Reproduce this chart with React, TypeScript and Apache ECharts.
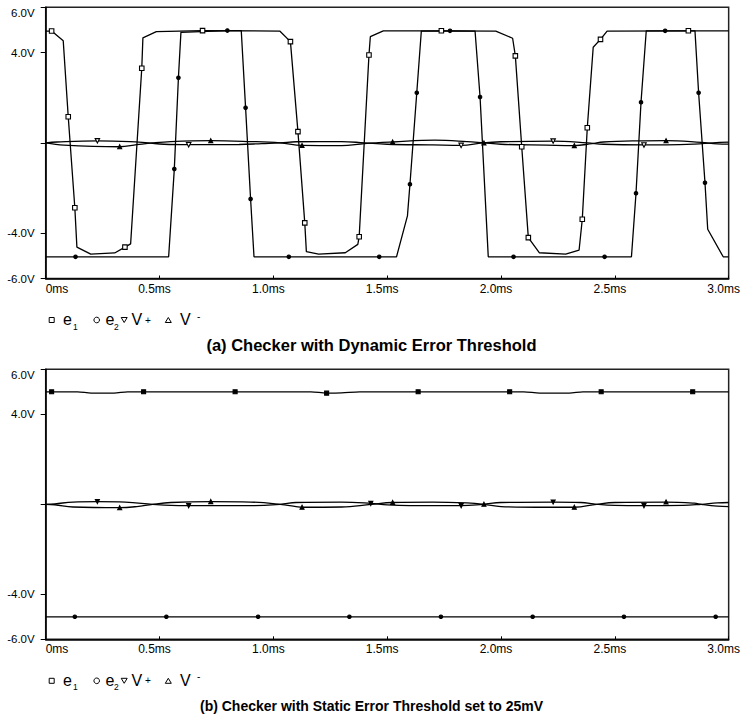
import React, { useEffect, useRef } from "react";
import * as echarts from "echarts";

// time in ms, voltage in V, third element = 1 -> a marker is drawn at that point
const e1Dynamic: number[][] = [
  [0, 4.95], [0.026, 4.95, 1], [0.077, 4.52], [0.099, 1.16, 1], [0.128, -2.87, 1], [0.137, -4.61],
  [0.198, -4.92], [0.303, -4.87], [0.348, -4.61, 1], [0.373, -4.47], [0.422, 3.3, 1], [0.427, 4.65],
  [0.486, 4.92], [0.689, 4.97, 1], [1.028, 4.95], [1.075, 4.48, 1], [1.108, 0.5, 1], [1.138, -3.54, 1],
  [1.145, -4.81], [1.199, -4.92], [1.316, -4.86], [1.371, -4.49], [1.377, -4.15, 1], [1.42, 3.89, 1],
  [1.426, 4.7], [1.483, 4.96], [1.738, 4.96, 1], [1.977, 4.95], [2.051, 4.63], [2.063, 3.85, 1],
  [2.091, -0.17, 1], [2.12, -4.19, 1], [2.168, -4.86], [2.284, -4.92], [2.343, -4.74], [2.357, -3.38, 1],
  [2.379, 0.67, 1], [2.405, 4.23], [2.437, 4.58, 1], [2.466, 4.95], [2.823, 4.96, 1], [3.0, 4.96],
];
const e2Dynamic: number[][] = [
  [0, -5.04], [0.131, -5.04, 1], [0.54, -5.04], [0.565, -1.15, 1], [0.583, 2.88, 1], [0.594, 4.89],
  [0.798, 4.97, 1], [0.859, 4.97], [0.878, 1.56, 1], [0.9, -2.48, 1], [0.915, -5.04], [1.068, -5.04, 1],
  [1.465, -5.04, 1], [1.541, -5.04], [1.589, -3.23], [1.6, -1.83, 1], [1.63, 2.22, 1], [1.65, 4.95],
  [1.776, 4.96, 1], [1.886, 4.95], [1.908, 2.03, 1], [1.944, -5.04], [2.055, -5.04, 1], [2.455, -5.04, 1],
  [2.573, -5.04], [2.593, -2.23, 1], [2.615, 1.8, 1], [2.638, 4.96], [2.721, 4.96, 1], [2.852, 4.96],
  [2.868, 2.22, 1], [2.896, -1.76, 1], [2.908, -3.82], [2.976, -5.04], [3.0, -5.04],
];
const vPlusDynamic: number[][] = [
  [0, 0], [0.05, 0.04], [0.227, 0.09, 1], [0.37, 0.06], [0.45, 0], [0.52, -0.06], [0.628, -0.08, 1],
  [0.85, -0.07], [0.95, -0.03], [1.03, 0], [1.1, 0.05], [1.3, 0.06], [1.4, 0], [1.5, -0.06], [1.7, -0.09],
  [1.825, -0.11, 1], [1.92, 0], [2.0, 0.05], [2.229, 0.08, 1], [2.38, 0], [2.45, -0.06], [2.628, -0.09, 1],
  [2.85, -0.05], [2.93, 0], [3.0, 0.03],
];
const vMinusDynamic: number[][] = [
  [0, 0], [0.08, -0.1], [0.325, -0.17, 1], [0.4, -0.08], [0.47, 0], [0.55, 0.06], [0.725, 0.1, 1],
  [0.9, 0.06], [1.03, 0], [1.126, -0.11, 1], [1.3, -0.12], [1.4, -0.03], [1.524, 0.04, 1], [1.71, 0.12],
  [1.85, 0.06], [1.925, 0, 1], [2.0, -0.06], [2.2, -0.1], [2.322, -0.12, 1], [2.4, -0.03], [2.45, 0.04],
  [2.6, 0.09], [2.725, 0.1, 1], [2.88, 0.02], [2.95, -0.04], [3.0, -0.05],
];

const e1Static: number[][] = [
  [0, 5.0], [0.026, 5.0, 1], [0.14, 5.0], [0.2, 4.94], [0.3, 4.94], [0.36, 5.0], [0.43, 5.0, 1],
  [0.832, 5.0, 1], [1.165, 5.0], [1.234, 4.94, 1], [1.3, 4.95], [1.38, 5.0], [1.636, 5.0, 1],
  [2.038, 5.0, 1], [2.1, 5.0], [2.17, 4.94], [2.3, 4.94], [2.36, 5.0], [2.44, 5.0, 1], [2.842, 5.0, 1],
  [3.0, 5.0],
];
const e2Static: number[][] = [
  [0, -5.0], [0.128, -5.0, 1], [0.53, -5.0, 1], [0.933, -5.0, 1], [1.334, -5.0, 1], [1.736, -5.0, 1],
  [2.139, -5.0, 1], [2.54, -5.0, 1], [2.943, -5.0, 1], [3.0, -5.0],
];
const vPlusStatic: number[][] = [
  [0, 0], [0.04, 0.02], [0.12, 0.1], [0.227, 0.12, 1], [0.35, 0.1], [0.47, 0], [0.55, -0.05],
  [0.628, -0.06, 1], [0.9, -0.06], [1.03, 0], [1.1, 0.08], [1.3, 0.1], [1.428, 0.04, 1], [1.5, -0.03],
  [1.6, -0.06], [1.825, -0.06, 1], [1.92, 0], [2.0, 0.08], [2.229, 0.1, 1], [2.35, 0.08], [2.42, 0],
  [2.5, -0.05], [2.628, -0.06, 1], [2.8, -0.05], [2.88, 0], [2.95, 0.06], [3.0, 0.08],
];
const vMinusStatic: number[][] = [
  [0, 0], [0.04, -0.02], [0.12, -0.12], [0.325, -0.15, 1], [0.4, -0.1], [0.47, 0], [0.55, 0.08],
  [0.725, 0.12, 1], [0.9, 0.1], [1.03, 0], [1.1, -0.1], [1.126, -0.13, 1], [1.3, -0.12], [1.43, 0],
  [1.524, 0.08, 1], [1.7, 0.1], [1.85, 0.06], [1.925, 0, 1], [2.0, -0.1], [2.2, -0.13], [2.322, -0.13, 1],
  [2.42, 0], [2.5, 0.08], [2.725, 0.1, 1], [2.85, 0.05], [2.88, 0], [2.95, -0.08], [3.0, -0.1],
];

const yLabelValues = [-6, -4, 4, 6];
const yTickValues = [-6, -4, 0, 4, 6];
const titles = [
  "(a) Checker with Dynamic Error Threshold",
  "(b) Checker with Static Error Threshold set to 25mV",
];

const FONT = '"Liberation Sans", Arial, Helvetica, sans-serif';

function toData(arr: number[][]) {
  return arr.map((p) => (p[2] ? { value: [p[0], p[1]] } : { value: [p[0], p[1]], symbol: "none" }));
}

function makeSeries(
  name: string,
  arr: number[][],
  idx: number,
  symbol: string,
  rotate: number,
  smooth: number,
  size: number,
  fill: string
) {
  return {
    type: "line",
    name,
    xAxisIndex: idx,
    yAxisIndex: idx,
    data: toData(arr),
    symbol,
    symbolSize: size,
    symbolRotate: rotate,
    showSymbol: true,
    showAllSymbol: true,
    smooth,
    silent: true,
    lineStyle: { color: "#000", width: 1.3 },
    itemStyle: { color: fill, borderColor: "#000", borderWidth: 1.1 },
  };
}

function legendGraphics(cy: number) {
  const txt = (text: string, x: number, y: number, size: number) => ({
    type: "text",
    x,
    y,
    style: { text, fontSize: size, fontFamily: FONT, fill: "#000", align: "left", verticalAlign: "middle" },
  });
  const st = { fill: "#fff", stroke: "#000", lineWidth: 1 };
  return [
    { type: "rect", shape: { x: 49.2, y: cy - 2.5, width: 5, height: 5 }, style: st },
    txt("e", 63, cy - 0.8, 16),
    txt("1", 73, cy + 6.5, 8.5),
    { type: "circle", shape: { cx: 96.7, cy, r: 2.8 }, style: st },
    txt("e", 105.5, cy - 0.8, 16),
    txt("2", 114, cy + 6.5, 8.5),
    { type: "polygon", shape: { points: [[121.2, cy - 2.5], [127.2, cy - 2.5], [124.2, cy + 2.5]] }, style: st },
    txt("V", 131.5, cy - 0.8, 16),
    txt("+", 145, cy, 10),
    { type: "polygon", shape: { points: [[165.3, cy + 2.5], [171.3, cy + 2.5], [168.3, cy - 2.5]] }, style: st },
    txt("V", 180, cy - 0.8, 16),
    txt("-", 197, cy - 4, 10),
  ];
}

function titleGraphic(text: string, cy: number, size: number) {
  return {
    type: "text",
    x: 371.5,
    y: cy,
    style: {
      text,
      fontSize: size,
      fontWeight: "bold",
      fontFamily: FONT,
      fill: "#000",
      align: "center",
      verticalAlign: "middle",
    },
  };
}

export default function App() {
  const ref = useRef<HTMLDivElement>(null);
  useEffect(() => {
    if (!ref.current) return;
    const chart = echarts.init(ref.current, undefined, { renderer: "svg" });
    const gridTops = [7.3, 369.3];
    const gridHeights = [271.2, 270];
    const xAxis = [0, 1].map((i) => ({
      type: "value",
      gridIndex: i,
      min: 0,
      max: 3,
      interval: 0.5,
      axisLine: { show: true, onZero: false, lineStyle: { color: "#000", width: 1.5 } },
      axisTick: { show: true, inside: true, length: 3, lineStyle: { color: "#000", width: 1 } },
      axisLabel: {
        formatter: (v: number) => (v === 0 ? "0ms" : v.toFixed(1) + "ms"),
        fontSize: 12,
        fontFamily: FONT,
        color: "#000",
        margin: 4,
        alignMinLabel: "left",
        padding: [0, 10, 0, 0],
      },
      splitLine: { show: false },
    }));
    const yAxis = [0, 1].map((i) => ({
      type: "value",
      gridIndex: i,
      min: -6,
      max: 6,
      interval: 2,
      axisLine: { show: true, onZero: false, lineStyle: { color: "#000", width: 1.5 } },
      axisTick: { show: true, inside: false, length: 5, customValues: yTickValues, lineStyle: { color: "#000", width: 1 } },
      axisLabel: {
        customValues: yLabelValues,
        formatter: (v: number) => v.toFixed(1) + "V",
        fontSize: 11.5,
        fontFamily: FONT,
        color: "#000",
        margin: 11,
        verticalAlignMaxLabel: "top",
      },
      splitLine: { show: false },
    }));
    const option = {
      animation: false,
      backgroundColor: "#fff",
      grid: [0, 1].map((i) => ({
        left: 45.7,
        top: gridTops[i],
        width: 686.3,
        height: gridHeights[i],
        show: true,
        borderColor: "#222",
        borderWidth: 1.5,
        backgroundColor: "transparent",
      })),
      xAxis,
      yAxis,
      series: [
        makeSeries("e1", e1Dynamic, 0, "rect", 0, 0, 4.5, "#fff"),
        makeSeries("e2", e2Dynamic, 0, "circle", 0, 0, 3.5, "#000"),
        makeSeries("V+", vPlusDynamic, 0, "triangle", 180, 0.4, 4.5, "#fff"),
        makeSeries("V-", vMinusDynamic, 0, "triangle", 0, 0.4, 4, "#000"),
        makeSeries("e1", e1Static, 1, "rect", 0, 0.3, 4, "#000"),
        makeSeries("e2", e2Static, 1, "circle", 0, 0, 3.5, "#000"),
        makeSeries("V+", vPlusStatic, 1, "triangle", 180, 0.4, 4, "#000"),
        makeSeries("V-", vMinusStatic, 1, "triangle", 0, 0.4, 4, "#000"),
      ],
      graphic: [
        ...legendGraphics(320),
        titleGraphic(titles[0], 345, 16.5),
        ...legendGraphics(680.8),
        titleGraphic(titles[1], 705.5, 14),
      ],
    };
    chart.setOption(option as any);
    return () => chart.dispose();
  }, []);
  return (
    <div
      ref={ref}
      style={{ position: "fixed", left: 0, top: 0, width: 743, height: 715, background: "#fff" }}
    />
  );
}
